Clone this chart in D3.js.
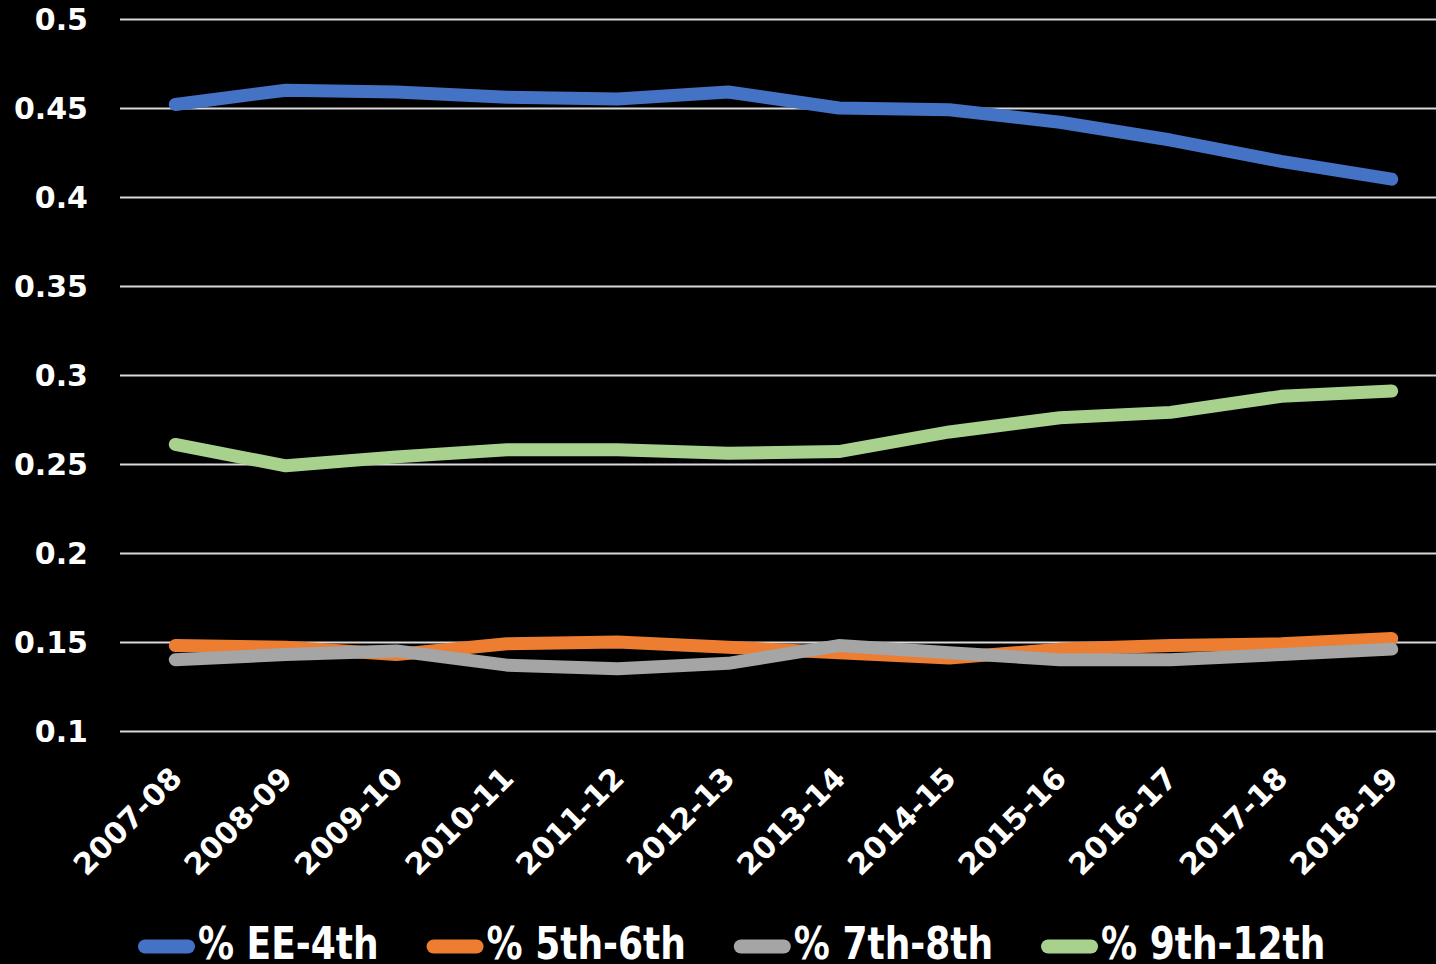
<!DOCTYPE html>
<html>
<head>
<meta charset="utf-8">
<script src="https://cdn.jsdelivr.net/npm/d3@7"></script>
<style>
  html, body { margin: 0; padding: 0; background: #000; }
  svg { display: block; }
  text { font-family: "DejaVu Sans", sans-serif; font-weight: bold; fill: #fff; }
</style>
</head>
<body>
<svg id="chart" width="1436" height="964"></svg>
<script>
// School-year categories
const years = ["2007-08","2008-09","2009-10","2010-11","2011-12","2012-13",
               "2013-14","2014-15","2015-16","2016-17","2017-18","2018-19"];

// Share of enrolment per grade band
const eeTo4th    = [0.452,0.460,0.459,0.456,0.455,0.459,0.450,0.449,0.442,0.432,0.420,0.410];
const fifthSixth = [0.148,0.147,0.143,0.149,0.150,0.147,0.144,0.141,0.146,0.148,0.149,0.152];
const seventh8th = [0.140,0.143,0.145,0.137,0.135,0.138,0.148,0.144,0.140,0.140,0.143,0.146];
const ninth12th  = [0.261,0.249,0.254,0.258,0.258,0.256,0.257,0.268,0.276,0.279,0.288,0.291];

const seriesNames  = ["% EE-4th","% 5th-6th","% 7th-8th","% 9th-12th"];
const seriesValues = [eeTo4th, fifthSixth, seventh8th, ninth12th];
const seriesColors = ["#4472C4","#ED7D31","#A5A5A5","#A9D18E"];

const yTicks = [0.1,0.15,0.2,0.25,0.3,0.35,0.4,0.45,0.5];

const svg = d3.select("#chart");
const W = 1436, H = 964;
const plot = { left: 120, right: 1447, top: 19, bottom: 731 };

const x = d3.scalePoint().domain(years).range([plot.left, plot.right]).padding(0.5);
const y = d3.scaleLinear().domain([0.1, 0.5]).range([plot.bottom, plot.top]);

svg.append("rect").attr("width", W).attr("height", H).attr("fill", "#000");

// Horizontal gridlines
const yAxis = d3.axisLeft(y).tickValues(yTicks)
  .tickSize(-(plot.right - plot.left))
  .tickFormat(d => String(+d.toFixed(2)));
const gy = svg.append("g").attr("transform", `translate(${plot.left},0)`).call(yAxis);
gy.select(".domain").remove();
gy.selectAll(".tick line").attr("stroke", "#d9d9d9").attr("stroke-width", 2);
gy.selectAll(".tick text")
  .attr("x", -32).attr("dy", "0.36em")
  .attr("text-anchor", "end")
  .style("font-size", "30px")
  .style("font-family", "'DejaVu Sans', sans-serif")
  .style("font-weight", "bold")
  .attr("fill", "#fff");

// Category labels, rotated
const xAxis = d3.axisBottom(x).tickSize(0);
const gx = svg.append("g").attr("transform", `translate(0,${plot.bottom})`).call(xAxis);
gx.select(".domain").remove();
gx.selectAll(".tick text")
  .attr("text-anchor", "end")
  .attr("transform", "translate(-8,33) rotate(-45)")
  .attr("y", 0).attr("dy", "0.75em")
  .style("font-size", "30px")
  .style("font-family", "'DejaVu Sans', sans-serif")
  .style("font-weight", "bold")
  .attr("fill", "#fff");

// Series lines
const line = d3.line().x((d, i) => x(years[i])).y(d => y(d));
seriesValues.forEach((vals, k) => {
  svg.append("path")
    .datum(vals)
    .attr("d", line)
    .attr("fill", "none")
    .attr("stroke", seriesColors[k])
    .attr("stroke-width", 13)
    .attr("stroke-linecap", "round")
    .attr("stroke-linejoin", "round");
});

// Legend: swatch line followed by its label, laid out left to right
const legend = svg.append("g");
const swatchY = 946.5, textBase = 959, swatchW = 57, gapAfterText = 48;
let cursor = 138;
seriesNames.forEach((name, k) => {
  const item = legend.append("g").attr("transform", `translate(${cursor},0)`);
  item.append("line")
    .attr("x1", 7).attr("x2", swatchW - 7)
    .attr("y1", swatchY).attr("y2", swatchY)
    .attr("stroke", seriesColors[k])
    .attr("stroke-width", 14)
    .attr("stroke-linecap", "round");
  const t = item.append("text")
    .attr("transform", `translate(${swatchW + 3},${textBase}) scale(1,1.25)`)
    .style("font-size", "36px")
    .text(name);
  cursor += swatchW + 3 + t.node().getComputedTextLength() + gapAfterText;
});
</script>
</body>
</html>
